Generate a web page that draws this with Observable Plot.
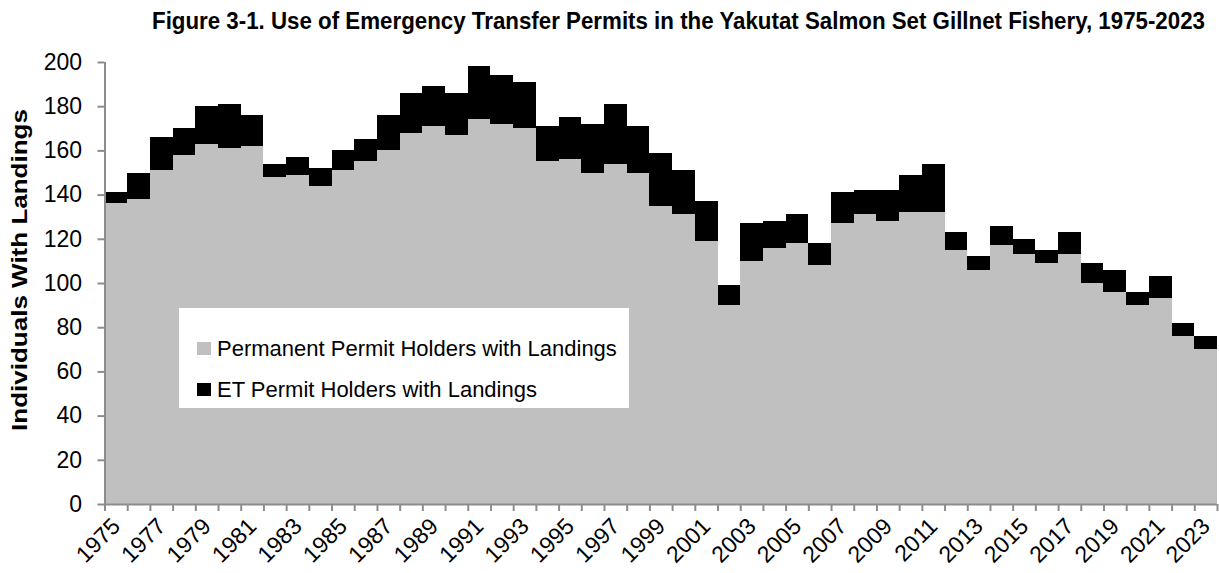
<!DOCTYPE html>
<html>
<head>
<meta charset="utf-8">
<script src="https://cdn.jsdelivr.net/npm/d3@7"></script>
<script src="https://cdn.jsdelivr.net/npm/@observablehq/plot@0.6"></script>
<style>
  html, body { margin: 0; padding: 0; background: #fff; }
  #wrap { position: relative; width: 1219px; height: 573px; overflow: hidden; background: #fff;
    font-family: "Liberation Sans", Arial, sans-serif; color: #000; }
  #title { position: absolute; left: 0; top: 0; width: 1219px; height: 40px; }
  #title span { position: absolute; left: 152px; top: 8px; font-weight: bold; font-size: 23px;
    line-height: 26px; white-space: nowrap; transform-origin: 0 0; }
  #chart { position: absolute; left: 0; top: 40px; }
  #ylab { position: absolute; left: 20px; top: 270px; transform: translate(-50%, -50%) scaleX(0.85) rotate(-90deg);
    font-weight: bold; font-size: 26px; white-space: nowrap; }
  #legend { position: absolute; left: 179px; top: 308px; height: 100px; background: #fff;
    padding: 0 12px 0 38px; box-sizing: border-box; white-space: nowrap; font-size: 22px; }
  .item { position: relative; height: 41px; line-height: 41px; }
  .item:first-child { margin-top: 20px; }
  .sw { position: absolute; left: -20px; top: 14px; width: 14px; height: 13px; }
</style>
</head>
<body>
<div id="wrap">
  <div id="title"><span id="titletext">Figure 3-1. Use of Emergency Transfer Permits in the Yakutat Salmon Set Gillnet Fishery, 1975-2023</span></div>
  <div id="chart"></div>
  <div id="ylab">Individuals With Landings</div>
  <div id="legend"></div>
</div>
<script>
// Categories
const years = [1975,1976,1977,1978,1979,1980,1981,1982,1983,1984,
               1985,1986,1987,1988,1989,1990,1991,1992,1993,1994,
               1995,1996,1997,1998,1999,2000,2001,2002,2003,2004,
               2005,2006,2007,2008,2009,2010,2011,2012,2013,2014,
               2015,2016,2017,2018,2019,2020,2021,2022,2023];
// Permanent permit holders with landings
const permanent = [136,138,151,158,163,161,162,148,149,144,
                   151,155,160,168,171,167,174,172,170,155,
                   156,150,154,150,135,131,119,90,110,116,
                   118,108,127,131,128,132,132,115,106,117,
                   113,109,113,100,96,90,93,76,70];
// ET (emergency transfer) permit holders with landings
const etHolders = [5,12,15,12,17,20,14,6,8,8,
                   9,10,16,18,18,19,24,22,21,16,
                   19,22,27,21,24,20,18,9,17,12,
                   13,10,14,11,14,17,22,8,6,9,
                   7,6,10,9,10,6,10,6,6];
const seriesNames = ["Permanent Permit Holders with Landings", "ET Permit Holders with Landings"];
const seriesColors = ["#c0c0c0", "#000000"];
const yTicks = [0,20,40,60,80,100,120,140,160,180,200];
const labelYears = years.filter((y, i) => i % 2 === 0);

const rows = years.map((year, i) => ({year, perm: permanent[i], et: etHolders[i], total: permanent[i] + etHolders[i]}));
const xMin = years[0] - 0.5, xMax = years[years.length - 1] + 0.5;
const boundaries = years.map(y => y - 0.5).concat([xMax]);
const FONT = '"Liberation Sans", Arial, sans-serif';
const AX = "#8c8c8c";

const chart = Plot.plot({
  width: 1219, height: 533,
  marginTop: 22, marginBottom: 69, marginLeft: 104.5, marginRight: 2,
  x: {domain: [xMin, xMax], label: null},
  y: {domain: [0, 200], label: null},
  style: {fontFamily: FONT, fontSize: "23px", color: "#000", background: "#fff", overflow: "visible"},
  marks: [
    Plot.rect(rows, {x1: d => d.year - 0.5, x2: d => d.year + 0.5, y1: 0, y2: "perm",
      fill: seriesColors[0], shapeRendering: "crispEdges"}),
    Plot.rect(rows, {x1: d => d.year - 0.5, x2: d => d.year + 0.5, y1: "perm", y2: "total",
      fill: seriesColors[1], shapeRendering: "crispEdges"}),
    Plot.ruleY([0], {stroke: AX, strokeWidth: 2}),
    Plot.ruleX([xMin], {y1: 0, y2: 200, stroke: AX, strokeWidth: 2}),
    Plot.axisY({ticks: yTicks, tickSize: 7, tickPadding: 16, stroke: AX, strokeWidth: 2, fill: "#000", label: null}),
    Plot.axisX({ticks: boundaries, tickSize: 7, tickFormat: () => "", stroke: AX, strokeWidth: 2, label: null}),
    Plot.axisX({ticks: labelYears, tickSize: 0, tickRotate: -45, tickPadding: 18, fill: "#000",
      tickFormat: d => String(d), label: null})
  ]
});
document.getElementById("chart").appendChild(chart);

// fit title to the reference span (x 152 -> 1205)
const tt = document.getElementById("titletext");
const natural = tt.getBoundingClientRect().width;
tt.style.transform = `scaleX(${(1053 / natural).toFixed(4)})`;

const legend = document.getElementById("legend");
seriesNames.forEach((name, i) => {
  const it = document.createElement("div");
  it.className = "item";
  const sw = document.createElement("span");
  sw.className = "sw";
  sw.style.background = seriesColors[i];
  it.appendChild(sw);
  it.appendChild(document.createTextNode(name));
  legend.appendChild(it);
});
</script>
</body>
</html>
